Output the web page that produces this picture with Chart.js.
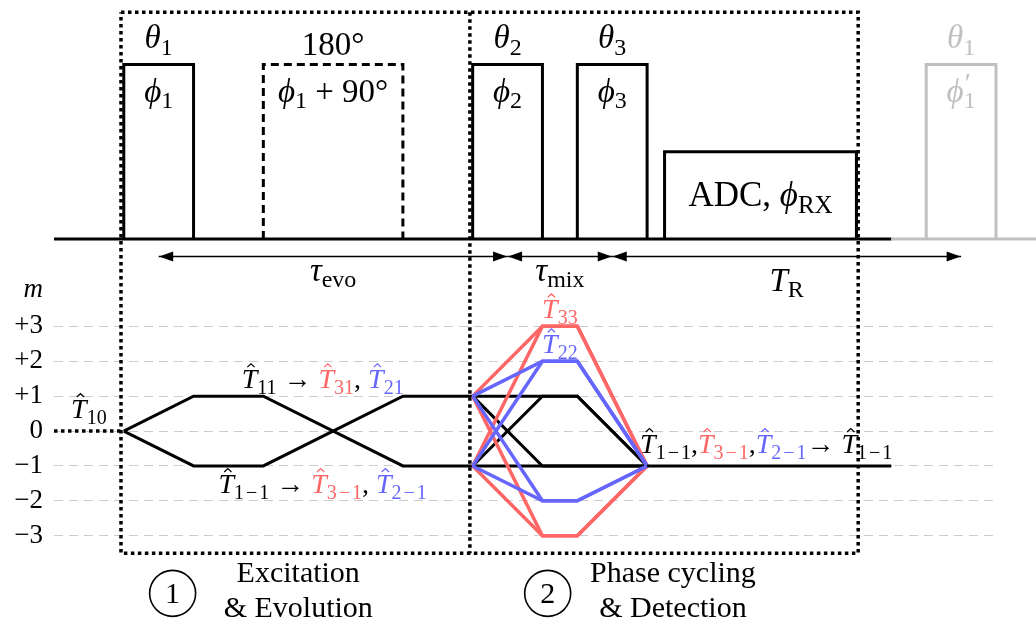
<!DOCTYPE html>
<html>
<head>
<meta charset="utf-8">
<title>Pulse sequence and coherence pathways</title>
<script src="https://cdn.jsdelivr.net/npm/chart.js@4.4.1/dist/chart.umd.min.js"></script>
<style>
    html, body { margin: 0; padding: 0; background: #fff; }
    #wrap { width: 1036px; height: 623px; }
</style>
</head>
<body>
<div id="wrap"><canvas id="seqChart"></canvas></div>
<script>
const SERIF = '"Liberation Serif", "Times New Roman", serif';
const RED = '#ff6666';
const BLUE = '#6666ff';
const GRAY = '#c0c0c0';
const TH = 'T\u0302';

// coherence order axis
const mLevels = [-3, -2, -1, 0, 1, 2, 3];
const mLabels = ['−3', '−2', '−1', '0', '+1', '+2', '+3'];

// RF pulses, start / end in sequence time units
const pulseStart = [0, 4, 10, 13, 23];
const pulseEnd = [2, 8, 12, 15, 25];
const pulseFlip = ['θ_1', '180°', 'θ_2', 'θ_3', 'θ_1'];
const pulsePhase = ['ϕ_1', 'ϕ_1 + 90°', 'ϕ_2', 'ϕ_3', "ϕ'_1"];

// receiver window
const adcWindow = [15.5, 21];
const adcLabel = 'ADC, ϕ_{RX}';

// delays, measured between pulse centres
const delayMarks = [1, 11, 14, 24];
const delayNames = ['τ_{evo}', 'τ_{mix}', 'T_R'];

// pathways before and during evolution
const initTimes = [-2, 0];
const initOrder = [0, 0];
const evoTimes = [0, 2, 4, 8, 10];
const evoOrders = [[0, 1, 1, -1, -1], [0, -1, -1, 1, 1]];

// pathways through theta2 / theta3, all brought back to m = -1
const mixTimes = [10, 12, 13, 15];
const rank1Orders = [[1, 1, 1, -1], [1, -1, -1, -1], [-1, 1, 1, -1], [-1, -1, -1, -1]];
const rank3Orders = [[1, 3, 3, -1], [-1, 3, 3, -1], [1, -3, -3, -1], [-1, -3, -3, -1]];
const rank2Orders = [[1, 2, 2, -1], [-1, 2, 2, -1], [1, -2, -2, -1], [-1, -2, -2, -1]];

// detection
const acqTimes = [15, 22];
const acqOrder = [-1, -1];

// where the sequence row sits on the m scale
const RAIL = 5.5;
const PULSE_H = 5;
const ADC_H = 2.5;
const ARROW_Y = 5;
const ITALIC = 'Tmθϕτ';

const datasets = [];
function addLine(xs, ys, color, width, dash) {
    datasets.push({
        data: xs.map((x, i) => ({ x: x, y: ys[i] })),
        borderColor: color,
        borderWidth: width,
        borderDash: dash || [],
        borderCapStyle: 'butt',
        borderJoinStyle: 'miter',
        pointRadius: 0,
        tension: 0,
        fill: false,
        clip: false,
        order: -datasets.length
    });
}

// dotted frames of the two blocks
const fL = -0.08, fM = 9.92, fR = 21.05, fB = -3.5, fT = 12;
addLine([fL, fR, fR, fL, fL], [fT, fT, fB, fB, fT], '#000', 3.5, [3.5, 3.5]);
addLine([fM, fM], [fT, fB], '#000', 3.5, [3.5, 3.5]);

// sequence rail, pulses and ADC
addLine([-2, 22], [RAIL, RAIL], '#000', 3);
addLine([22, 26.2], [RAIL, RAIL], GRAY, 3);
pulseStart.forEach(function(s, i) {
    const e = pulseEnd[i];
    addLine([s, s, e, e], [RAIL, RAIL + PULSE_H, RAIL + PULSE_H, RAIL],
        i === 4 ? GRAY : '#000', 3, i === 1 ? [8, 5] : []);
});
addLine([adcWindow[0], adcWindow[0], adcWindow[1], adcWindow[1]],
    [RAIL, RAIL + ADC_H, RAIL + ADC_H, RAIL], '#000', 3);

// delay arrows (heads drawn by the plugin)
for (let i = 0; i < delayNames.length; i++) {
    addLine([delayMarks[i], delayMarks[i + 1]], [ARROW_Y, ARROW_Y], '#000', 1.5);
}

// coherence pathways
addLine(initTimes, initOrder, '#000', 3.5, [3.5, 3.5]);
evoOrders.forEach(m => addLine(evoTimes, m, '#000', 3));
rank1Orders.forEach(m => addLine(mixTimes, m, '#000', 3));
rank3Orders.forEach(m => addLine(mixTimes, m, RED, 3.5));
rank2Orders.forEach(m => addLine(mixTimes, m, BLUE, 3.5));
addLine(acqTimes, acqOrder, '#000', 3);

// --- small math-ish text renderer: _x / _{xy} subscripts, ' prime, T\u0302 hats
function parseRich(src) {
    const out = [];
    let i = 0;
    while (i < src.length) {
        const ch = src[i];
        if (ch === '_') {
            let s;
            if (src[i + 1] === '{') {
                const j = src.indexOf('}', i);
                s = src.slice(i + 2, j);
                i = j + 1;
            } else {
                s = src[i + 1];
                i += 2;
            }
            // minus signs in subscripts get a little air, like a math minus
            s.split(/(−)/).filter(Boolean).forEach(function(piece) {
                out.push({ s: piece, sub: true, pad: piece === '−' });
            });
        } else if (ch === "'") {
            out.push({ s: '′', sup: true, zw: true });
            i++;
        } else if (src[i + 1] === '\u0302') {
            out.push({ s: ch, it: true, hat: true });
            i += 2;
        } else {
            out.push({ s: ch, it: ITALIC.includes(ch) });
            i++;
        }
    }
    return out;
}

function richFont(p, size) {
    const sz = p.sup ? Math.round(size * 0.85) : p.sub ? Math.round(size * 0.72) : size;
    return (p.it ? 'italic ' : '') + sz + 'px ' + SERIF;
}

function drawRich(ctx, segs, px, py, size, align) {
    const parts = [];
    segs.forEach(function(seg) {
        parseRich(seg[0]).forEach(function(p) {
            p.color = seg[1] || '#000';
            const last = parts[parts.length - 1];
            if (last && !p.hat && !last.hat && !p.zw && !last.zw && !p.sup && !last.sup && !p.pad && !last.pad &&
                !!last.sub === !!p.sub && !!last.it === !!p.it && last.color === p.color) {
                last.s += p.s;
            } else {
                parts.push(p);
            }
        });
    });
    const gap = size * 0.07;
    let width = 0;
    parts.forEach(function(p) {
        ctx.font = richFont(p, size);
        p.w = p.zw ? 0 : ctx.measureText(p.s).width + (p.pad ? 2 * gap : 0);
        width += p.w;
    });
    let cx = align === 'center' ? px - width / 2 : align === 'right' ? px - width : px;
    ctx.textAlign = 'left';
    ctx.textBaseline = 'alphabetic';
    parts.forEach(function(p) {
        ctx.font = richFont(p, size);
        ctx.fillStyle = p.color;
        const dy = p.sub ? size * 0.2 : p.sup ? -size * 0.3 : 0;
        ctx.fillText(p.s, cx + (p.pad ? gap : 0) + (p.sup ? 1 : 0), py + dy);
        if (p.hat) {
            const hx = cx + p.w * 0.6, hw = size * 0.13, hy = py - size * 0.75;
            ctx.strokeStyle = p.color;
            ctx.lineWidth = Math.max(1, size * 0.045);
            ctx.beginPath();
            ctx.moveTo(hx - hw, hy);
            ctx.lineTo(hx, hy - size * 0.12);
            ctx.lineTo(hx + hw, hy);
            ctx.stroke();
        }
        cx += p.w;
    });
}

function arrowHead(ctx, x, y, dir) {
    ctx.beginPath();
    ctx.moveTo(x, y);
    ctx.lineTo(x - dir * 14, y - 5);
    ctx.lineTo(x - dir * 14, y + 5);
    ctx.closePath();
    ctx.fill();
}

const annotate = {
    id: 'annotate',
    afterDatasetsDraw(chart) {
        const ctx = chart.ctx;
        const X = v => chart.scales.x.getPixelForValue(v);
        const Y = v => chart.scales.y.getPixelForValue(v);
        ctx.save();

        // delay arrows and their names
        ctx.fillStyle = '#000';
        const drop = [24, 24, 34];
        for (let i = 0; i < delayNames.length; i++) {
            const a = X(delayMarks[i]) + 0.5, b = X(delayMarks[i + 1]) - 0.5, ay = Y(ARROW_Y);
            arrowHead(ctx, a, ay, -1);
            arrowHead(ctx, b, ay, 1);
            drawRich(ctx, [[delayNames[i]]], (a + b) / 2, ay + drop[i], 33, 'center');
        }

        // flip angles above, phases inside the pulses
        pulseStart.forEach(function(s, i) {
            const cx = X((s + pulseEnd[i]) / 2), top = Y(RAIL + PULSE_H);
            const col = i === 4 ? GRAY : '#000';
            const sub = pulseFlip[i].includes('_') ? 33 * 0.2 : 0;
            drawRich(ctx, [[pulseFlip[i], col]], cx, top - 10 - sub, 33, 'center');
            drawRich(ctx, [[pulsePhase[i], col]], cx, top + 37, 33, 'center');
        });
        drawRich(ctx, [[adcLabel]], X((adcWindow[0] + adcWindow[1]) / 2),
            Y(RAIL + ADC_H / 2) + 11, 35, 'center');

        // pathway labels
        const pathLabels = [
            { segs: [[TH + '_{10}']], x: -1, y: 0, dy: -13, align: 'center' },
            { segs: [[TH + '_{11} → '], [TH + '_{31}', RED], [', '], [TH + '_{21}', BLUE]], x: 5.7, y: 1, dy: -8, align: 'center' },
            { segs: [[TH + '_{1−1} → '], [TH + '_{3−1}', RED], [', '], [TH + '_{2−1}', BLUE]], x: 5.7, y: -1, dy: 27, align: 'center' },
            { segs: [[TH + '_{33}', RED]], x: 12.5, y: 3, dy: -8, align: 'center' },
            { segs: [[TH + '_{22}', BLUE]], x: 12.5, y: 2, dy: -8, align: 'center' },
            { segs: [[TH + '_{1−1},'], [TH + '_{3−1}', RED], [','], [TH + '_{2−1}', BLUE], ['→ ' + TH + '_{1−1}']], x: 15, y: -1, dy: -13, dx: -7, align: 'left' }
        ];
        pathLabels.forEach(function(l) {
            drawRich(ctx, l.segs, X(l.x) + (l.dx || 0), Y(l.y) + l.dy, 28, l.align);
        });

        // m axis title
        ctx.font = 'italic 27px ' + SERIF;
        ctx.fillStyle = '#000';
        ctx.textAlign = 'right';
        ctx.textBaseline = 'alphabetic';
        ctx.fillText('m', chart.chartArea.left - 11, Y(3) - 29);

        // block captions
        const blocks = [
            { n: '1', x: 1.4, tx: 5, lines: ['Excitation', '& Evolution'] },
            { n: '2', x: 12.15, tx: 15.74, lines: ['Phase cycling', '& Detection'] }
        ];
        blocks.forEach(function(b) {
            const cx = X(b.x), cy = Y(-4.65);
            ctx.strokeStyle = '#000';
            ctx.lineWidth = 1.6;
            ctx.beginPath();
            ctx.arc(cx, cy, 23, 0, Math.PI * 2);
            ctx.stroke();
            ctx.textAlign = 'center';
            ctx.font = '30px ' + SERIF;
            ctx.fillText(b.n, cx, cy + 10);
            ctx.fillText(b.lines[0], X(b.tx), cy - 11);
            ctx.fillText(b.lines[1], X(b.tx), cy + 24);
        });

        ctx.restore();
    }
};

document.addEventListener('DOMContentLoaded', function() {
    const canvas = document.getElementById('seqChart');
    new Chart(canvas.getContext('2d'), {
        type: 'line',
        data: { datasets: datasets },
        options: {
            responsive: true,
            maintainAspectRatio: false,
            animation: false,
            events: [],
            layout: { padding: { left: 0, right: 40, top: 0, bottom: 0 } },
            plugins: {
                legend: { display: false },
                tooltip: { enabled: false }
            },
            scales: {
                x: { type: 'linear', display: false, min: -2, max: 25 },
                y: {
                    type: 'linear',
                    min: -5.5,
                    max: 12.35,
                    afterBuildTicks: function(scale) {
                        scale.ticks = mLevels.map(v => ({ value: v }));
                    },
                    afterFit: function(scale) {
                        scale.width = 54;
                        scale.paddingTop = 0;
                        scale.paddingBottom = 0;
                    },
                    ticks: {
                        padding: 11,
                        color: '#000',
                        font: { family: SERIF, size: 27 },
                        callback: function(v) {
                            const k = mLevels.indexOf(v);
                            return k < 0 ? '' : mLabels[k];
                        }
                    },
                    grid: { color: '#cccccc', lineWidth: 1, drawTicks: false },
                    border: { display: false, dash: [9, 6] }
                }
            }
        },
        plugins: [annotate]
    });
});
</script>
</body>
</html>
